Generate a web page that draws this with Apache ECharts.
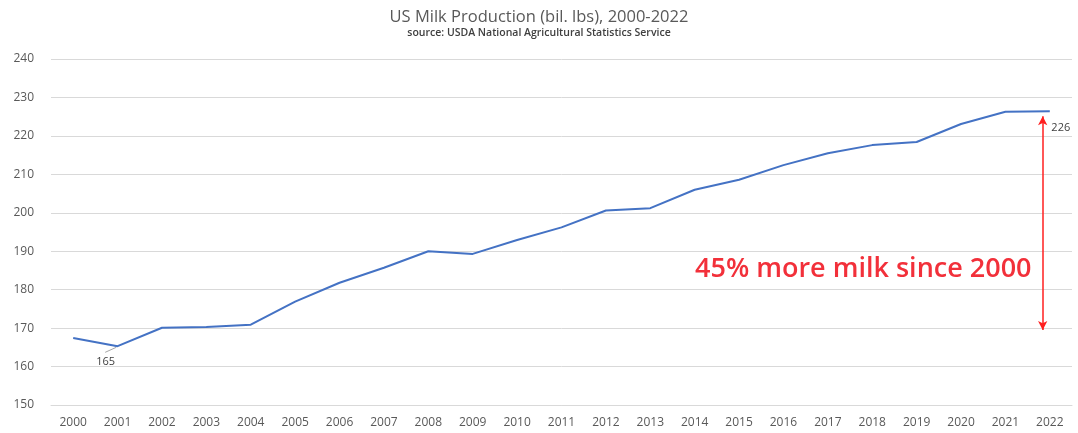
<!DOCTYPE html>
<html>
<head>
<meta charset="utf-8">
<script src="https://cdn.jsdelivr.net/npm/echarts@6/dist/echarts.min.js"></script>
<style>
  html, body { margin: 0; padding: 0; background: #ffffff; }
  #chart { width: 1078px; height: 433px; }
</style>
</head>
<body>
<div id="chart"></div>
<script>
// US milk production, billions of pounds
const years = ['2000','2001','2002','2003','2004','2005','2006','2007','2008','2009','2010',
               '2011','2012','2013','2014','2015','2016','2017','2018','2019','2020','2021','2022'];
const production = [167.4, 165.3, 170.1, 170.3, 170.9, 176.9, 181.8, 185.7, 190.0, 189.3, 192.9,
                    196.2, 200.6, 201.2, 206.0, 208.6, 212.4, 215.5, 217.6, 218.4, 223.1, 226.3, 226.4];
const yTicks = { min: 150, max: 240, step: 10 };

// annotation values: the increase arrow spans roughly the 2000 level up to the 2022 level
const arrowSpan = [169.5, 225.1];
const arrowPos = 21.84;           // just left of the 2022 category
const leader165 = [[0.72, 163.7], [0.97, 165.0]];

const labelled = { 1: [-12, 5], 22: [11, 6] };

const lineData = production.map((v, i) => {
  if (labelled[i]) {
    return {
      value: v,
      label: {
        show: true,
        position: 'bottom',
        offset: labelled[i],
        formatter: (p) => Math.round(p.value),
        color: '#404040',
        fontFamily: 'Open Sans',
        fontSize: 11
      }
    };
  }
  return v;
});

const chart = echarts.init(document.getElementById('chart'), null, { renderer: 'canvas' });

chart.setOption({
  animation: false,
  backgroundColor: '#ffffff',
  title: {
    text: 'US Milk Production (bil. lbs), 2000-2022',
    subtext: 'source: USDA National Agricultural Statistics Service',
    left: 'center',
    top: 4,
    itemGap: 2,
    textStyle: { fontFamily: 'Open Sans', fontSize: 16.5, fontWeight: 'normal', color: '#595959' },
    subtextStyle: { fontFamily: 'Open Sans', fontSize: 10.5, fontWeight: 600, color: '#404040' }
  },
  grid: { left: 51, right: 6, top: 59, bottom: 28, containLabel: false },
  xAxis: [
    {
      type: 'category',
      data: years,
      boundaryGap: true,
      axisLine: { show: true, lineStyle: { color: '#d9d9d9', width: 1 } },
      axisTick: { show: false },
      axisLabel: { color: '#595959', fontFamily: 'Open Sans', fontSize: 12, margin: 12, interval: 0 }
    },
    { type: 'value', min: -0.5, max: 22.5, show: false }
  ],
  yAxis: {
    type: 'value',
    min: yTicks.min,
    max: yTicks.max,
    interval: yTicks.step,
    axisLine: { show: false },
    axisTick: { show: false },
    splitLine: { lineStyle: { color: '#d9d9d9', width: 1 } },
    axisLabel: { color: '#595959', fontFamily: 'Open Sans', fontSize: 12, margin: 17 }
  },
  series: [
    {
      name: 'Milk production',
      type: 'line',
      data: lineData,
      symbol: 'circle',
      symbolSize: 0,
      showSymbol: true,
      lineStyle: { color: '#4472c4', width: 2 },
      itemStyle: { color: '#4472c4' }
    },
    {
      name: 'annotations',
      type: 'line',
      xAxisIndex: 1,
      data: [],
      silent: true,
      markLine: {
        silent: true,
        animation: false,
        label: { show: false },
        data: [
          [
            { coord: [arrowPos, arrowSpan[0]], symbol: 'arrow', symbolSize: [7, 9],
              lineStyle: { color: '#ff1f1f', width: 1.5, type: 'solid' } },
            { coord: [arrowPos, arrowSpan[1]], symbol: 'arrow', symbolSize: [7, 9] }
          ],
          [
            { coord: leader165[0], symbol: 'none',
              lineStyle: { color: '#a6a6a6', width: 1, type: 'solid' } },
            { coord: leader165[1], symbol: 'none' }
          ]
        ]
      }
    }
  ],
  graphic: [
    {
      type: 'text',
      left: 695,
      top: 256,
      style: {
        text: '45% more milk since 2000',
        fill: '#f2303a',
        font: '600 27px "Open Sans"'
      }
    }
  ]
});
</script>
</body>
</html>
